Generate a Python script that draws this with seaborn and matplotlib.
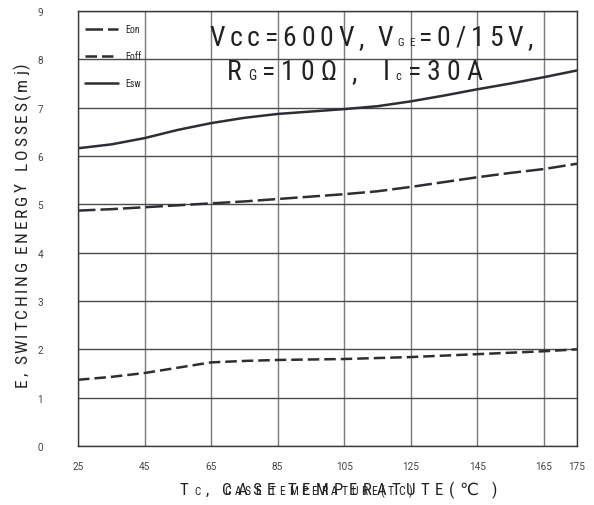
import matplotlib
matplotlib.use("Agg")
import matplotlib.pyplot as plt
from matplotlib.lines import Line2D
from matplotlib.font_manager import FontProperties
from matplotlib.transforms import IdentityTransform
import pandas as pd
import seaborn as sns

# Case temperature (degC) and switching energies (mJ)
temperature = [25, 35, 45, 55, 65, 75, 85, 95, 105, 115, 125, 135, 145, 155, 165, 175]
esw = [6.16, 6.24, 6.37, 6.54, 6.68, 6.79, 6.87, 6.92, 6.97, 7.03, 7.13, 7.25, 7.38, 7.50, 7.63, 7.77]
eon = [4.87, 4.90, 4.94, 4.98, 5.02, 5.06, 5.11, 5.16, 5.21, 5.27, 5.36, 5.46, 5.56, 5.65, 5.73, 5.84]
eoff = [1.37, 1.43, 1.51, 1.62, 1.73, 1.76, 1.78, 1.79, 1.80, 1.82, 1.84, 1.87, 1.90, 1.93, 1.96, 2.00]

x_ticks = [25, 45, 65, 85, 105, 125, 145, 165, 175]
y_ticks = [0, 1, 2, 3, 4, 5, 6, 7, 8, 9]

sns.set_theme(style="white")
FONT = ["Roboto Condensed", "DejaVu Sans"]
TICK_FONT = ["Roboto", "DejaVu Sans"]
plt.rcParams["font.family"] = FONT

W, H = 594, 506
LINE = "#2b2e33"
INK = "#222222"

fig = plt.figure(figsize=(W / 100, H / 100), dpi=100)
ax = fig.add_axes([78 / W, 1 - 447 / H, 499 / W, 435 / H])

df = pd.DataFrame({
    "T": temperature * 3,
    "E": eon + eoff + esw,
    "curve": ["Eon"] * len(eon) + ["Eoff"] * len(eoff) + ["Esw"] * len(esw),
})

LW = 1.8
styles = {
    "Eon": (0, (7.0, 2.0)),
    "Eoff": (0, (4.6, 2.0)),
    "Esw": "-",
}
for name, ls in styles.items():
    sub = df[df["curve"] == name]
    sns.lineplot(data=sub, x="T", y="E", ax=ax, color=LINE, lw=LW,
                 ls=ls, legend=False)

ax.set_xlim(25, 175)
ax.set_ylim(0, 9)
ax.set_xticks(x_ticks)
ax.set_yticks(y_ticks)
tick_fp = FontProperties(family=TICK_FONT, size=7.2)
ax.set_xticklabels([str(v) for v in x_ticks], fontproperties=tick_fp, color="#444444")
ax.set_yticklabels([str(v) for v in y_ticks], fontproperties=tick_fp, color="#444444")
ax.tick_params(axis="x", length=0, pad=11)
ax.tick_params(axis="y", length=0, pad=25)
ax.xaxis.grid(True, color="#7a7a7a", lw=1.0)
ax.yaxis.grid(True, color="#4a4a4a", lw=1.0)
for s in ax.spines.values():
    s.set_color("#3a3a3a")
    s.set_linewidth(1.0)
ax.set_xlabel("")
ax.set_ylabel("")

# legend
handles = [Line2D([], [], color=LINE, lw=LW, ls=styles[k]) for k in ("Eon", "Eoff", "Esw")]
ax.legend(handles, ["Eon", "Eoff", "Esw"], loc="upper left",
          bbox_to_anchor=(0.0, 0.985), frameon=False,
          prop=FontProperties(family=FONT, size=7),
          handlelength=3.4, handletextpad=0.8, labelspacing=1.75,
          borderaxespad=0.3)


def tracked_text(parts, start, end, base, vertical=False, color=INK):
    """Lay out characters with even tracking between start and end (pixels,
    measured from the top-left); base is the baseline position."""
    renderer = fig.canvas.get_renderer()
    items = []
    for s, size in parts:
        fp = FontProperties(family=FONT, size=size)
        for ch in s:
            if ch == " ":
                w = 0.14 * size * fig.dpi / 72
            else:
                w, _, _ = renderer.get_text_width_height_descent(ch, fp, ismath=False)
            items.append((ch, fp, w))
    total = sum(w for _, _, w in items)
    gap = (abs(end - start) - total) / (len(items) - 1)
    pos = start
    for ch, fp, w in items:
        if ch != " ":
            if vertical:
                fig.text(base, H - pos, ch, fontproperties=fp, rotation=90,
                         rotation_mode="anchor", ha="left", va="baseline",
                         transform=IdentityTransform(), color=color)
            else:
                fig.text(pos, H - base, ch, fontproperties=fp, ha="left",
                         va="baseline", transform=IdentityTransform(), color=color)
        pos += (w + gap) * (-1 if vertical else 1)


# operating conditions
tracked_text([("Vcc=600V,", 20), (" ", 20), ("V", 20), ("GE", 8), ("=0/15V,", 20)],
             209, 533, 46)
tracked_text([("R", 20), ("G", 10), ("=10Ω ,", 20), ("  ", 20), ("I", 20), ("c", 9),
              ("=30A", 20)], 227, 482, 80)

# axis titles
tracked_text([("E, SWITCHING ENERGY  LOSSES(mj)", 12.5)], 387, 63, 27, vertical=True)
tracked_text([("T", 12.2), ("C", 8), (",", 12.2), (" ", 12.2), ("CASE TEMPERATUTE(℃ )", 12.2)],
             180, 497, 495)
tracked_text([("CASE TEMPERATURE(TC)", 8.5)], 224, 412, 495)

fig.savefig("out.png", dpi=100)
